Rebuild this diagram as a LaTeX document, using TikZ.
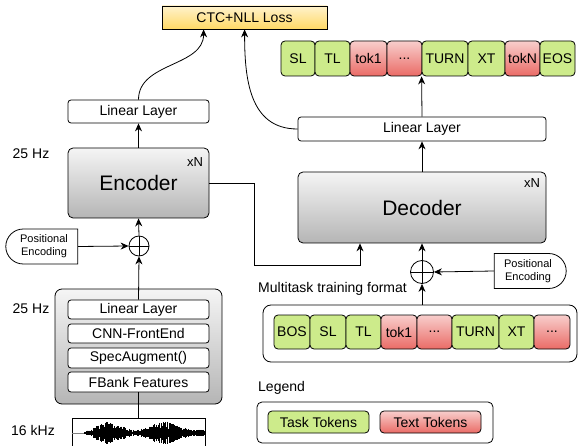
\documentclass[tikz,border=0pt]{standalone}
\usepackage{fontspec}
\setmainfont{Liberation Sans}
\usepackage{tikz}
\usetikzlibrary{calc,arrows.meta,shapes.misc}

\definecolor{taskgreen}{HTML}{CDEB8B}
\definecolor{redtop}{HTML}{F8CECC}
\definecolor{redbot}{HTML}{EA6B66}
\definecolor{yeltop}{HTML}{FFF2CC}
\definecolor{yelbot}{HTML}{FFD966}

\tikzset{
    box/.style={draw=black, line width=0.8pt, rounded corners=3pt, fill=white, inner sep=0pt, font=\fontsize{14}{16}\selectfont},
    graybox/.style={box, top color=gray!8, bottom color=gray!58, rounded corners=5pt},
    task/.style={box, fill=taskgreen, rounded corners=4pt, minimum height=35pt},
    txt/.style={box, top color=redtop, bottom color=redbot, rounded corners=4pt, minimum height=35pt},
    posenc/.style={draw=black, line width=0.8pt, fill=white, rounded rectangle, minimum width=72pt, minimum height=35pt, inner sep=0pt, align=center, font=\fontsize{11}{13}\selectfont},
    plus/.style={circle, draw=black, line width=0.8pt, fill=white, inner sep=0pt, path picture={\draw (path picture bounding box.north) -- (path picture bounding box.south) (path picture bounding box.west) -- (path picture bounding box.east);}},
    lbl/.style={inner sep=0pt, font=\fontsize{14}{16}\selectfont},
    arr/.style={-{Stealth[length=8pt,width=7pt]}, line width=0.8pt},
    ln/.style={line width=0.8pt}
}

\begin{document}
\begin{tikzpicture}[x=1pt, y=-1pt]
    \useasboundingbox (0,0) rectangle (578,446);

    % loss
    \node[box, rounded corners=0pt, top color=yeltop, bottom color=yelbot, minimum width=165pt, minimum height=23pt] (ctc) at (244.5,17.5) {CTC+NLL Loss};

    % encoder side
    \node[box, minimum width=141pt, minimum height=23pt] (enclin) at (138.5,111.5) {Linear Layer};
    \node[graybox, minimum width=141pt, minimum height=70pt, font=\fontsize{21}{24}\selectfont] (enc) at (138.5,183) {Encoder};
    \node[lbl, font=\fontsize{13}{15}\selectfont] (encxn) at (195,162) {xN};
    \node[lbl] (hz1) at (31,154) {25 Hz};

    \node[plus, minimum size=20pt] (encplus) at (139,246) {};
    \node[posenc, rounded rectangle right arc=none] (encpos) at (44,246.5) {Positional\\Encoding};

    \node[graybox, minimum width=167pt, minimum height=115pt, rounded corners=7pt] (front) at (138.5,346.5) {};
    \node[box, minimum width=141pt, minimum height=19pt] (felin) at (138.5,309.5) {Linear Layer};
    \node[box, minimum width=141pt, minimum height=19pt] (cnn) at (138.5,333.5) {CNN-FrontEnd};
    \node[box, minimum width=141pt, minimum height=20pt] (spec) at (138.5,358) {SpecAugment()};
    \node[box, minimum width=141pt, minimum height=20pt] (fbank) at (138.5,382) {FBank Features};
    \node[lbl] (hz2) at (31,309) {25 Hz};
    \node[lbl] (khz) at (33,430) {16 kHz};

    % waveform
    \node[draw=black, line width=0.8pt, fill=white, minimum width=133pt, minimum height=36pt, inner sep=0pt] (wave) at (138.5,436) {};
    \begin{scope}
        \clip (wave.south west) rectangle (wave.north east);
        \pgfmathsetseed{7}
        \draw[line width=0.3pt, gray] (wave.west |- 0,433) -- (86,433);
        \foreach \x in {84,84.4,...,205} {
            \pgfmathsetmacro\amp{(0.8+2.5*(\x>118)+11*max(0,1-abs(\x-107)/24)+9*max(0,1-abs(\x-164)/26))*(0.3+0.7*rnd)}
            \draw[line width=0.45pt] (\x,433-\amp) -- (\x,433+\amp);
        }
    \end{scope}

    % decoder side
    \node[box, minimum width=248pt, minimum height=24pt] (declin) at (422,129) {Linear Layer};
    \node[graybox, minimum width=248pt, minimum height=71pt, font=\fontsize{21}{24}\selectfont] (dec) at (422,207.5) {Decoder};
    \node[lbl, font=\fontsize{13}{15}\selectfont] (decxn) at (532,183) {xN};
    \node[plus, minimum size=23pt] (decplus) at (422,272) {};
    \node[posenc, rounded rectangle left arc=none] (decpos) at (528,271) {Positional\\Encoding};

    % output tokens
    \node[task, minimum width=34pt] (o1) at (298,58.5) {SL};
    \node[task, minimum width=35pt] (o2) at (332.5,58.5) {TL};
    \node[txt, minimum width=37pt] (o3) at (368.5,58.5) {tok1};
    \node[txt, minimum width=35pt] (o4) at (404.5,58.5) {...};
    \node[task, minimum width=46pt] (o5) at (445,58.5) {TURN};
    \node[task, minimum width=37pt] (o6) at (486.5,58.5) {XT};
    \node[txt, minimum width=35pt] (o7) at (522.5,58.5) {tokN};
    \node[task, minimum width=35pt] (o8) at (557.5,58.5) {EOS};

    % training format
    \node[lbl, anchor=west] (fmt) at (258,289) {Multitask training format};
    \node[box, rounded corners=8pt, minimum width=314pt, minimum height=57pt] (inbox) at (420,333.5) {};
    \node[task, minimum width=36pt, minimum height=34pt] (i1) at (292,332) {BOS};
    \node[task, minimum width=36pt, minimum height=34pt] (i2) at (328,332) {SL};
    \node[task, minimum width=35pt, minimum height=34pt] (i3) at (363.5,332) {TL};
    \node[txt, minimum width=36pt, minimum height=34pt] (i4) at (399,332) {tok1};
    \node[txt, minimum width=35pt, minimum height=34pt] (i5) at (434.5,332) {...};
    \node[task, minimum width=47pt, minimum height=34pt] (i6) at (475.5,332) {TURN};
    \node[task, minimum width=35pt, minimum height=34pt] (i7) at (516.5,332) {XT};
    \node[txt, minimum width=36pt, minimum height=34pt] (i8) at (552,332) {...};

    % legend
    \node[lbl, anchor=west] (leg) at (258,388) {Legend};
    \node[box, rounded corners=5pt, minimum width=236pt, minimum height=41pt] (legbox) at (375,422.5) {};
    \node[task, minimum width=101pt, minimum height=22pt] (legtask) at (318.5,422) {Task Tokens};
    \node[txt, minimum width=101pt, minimum height=22pt] (legtext) at (430.5,422) {Text Tokens};

    % connectors
    \draw[arr] (enclin.north) to[out=90, in=-90] ($(ctc.south west)+(42,0)$);
    \draw[arr] (declin.west) to[out=180, in=-90, looseness=1.1] ($(ctc.south west)+(83,0)$);
    \draw[arr] (enc.north) -- (enclin.south);
    \draw[arr] (encplus.north) -- (enc.south);
    \draw[arr] (encpos.east) -- (encplus.west);
    \draw[arr] (felin.north) -- (encplus.south);
    \draw[ln] (wave.north) -- (fbank.south);
    \draw[arr] (enc.east) -- ++(45,0) |- ($(dec.south)+(-62,22)$) -- ($(dec.south)+(-62,0)$);
    \draw[arr] (dec.north) -- (declin.south);
    \draw[arr] (declin.north) -- (o5.south west);
    \draw[arr] (decplus.north) -- (dec.south);
    \draw[arr] (decpos.west) -- (decplus.east);
    \draw[arr] (inbox.north -| decplus) -- (decplus.south);
\end{tikzpicture}
\end{document}
